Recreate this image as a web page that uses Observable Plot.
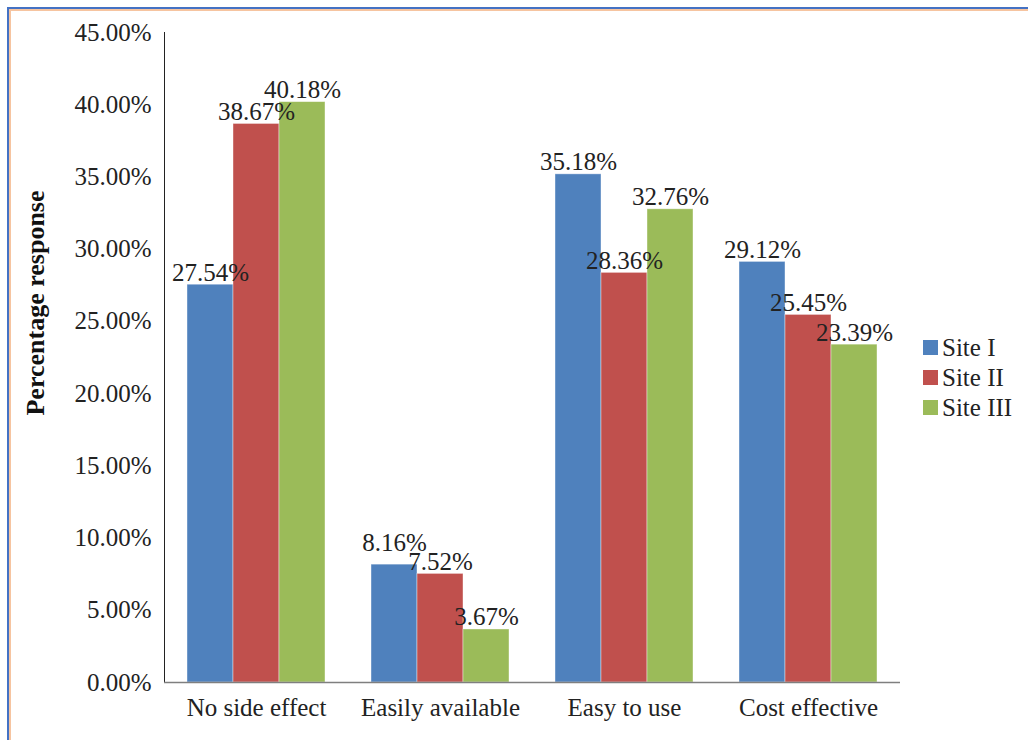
<!DOCTYPE html>
<html>
<head>
<meta charset="utf-8">
<script src="https://cdn.jsdelivr.net/npm/d3@7"></script>
<script src="https://cdn.jsdelivr.net/npm/@observablehq/plot@0.6"></script>
<style>
  html, body { margin: 0; padding: 0; background: #fff; }
  #wrap { position: relative; width: 1028px; height: 740px; overflow: hidden; }
  #wrap svg { position: absolute; left: 0; top: 0; }
  .edge-blue { position: absolute; left: 7px; top: 7px; right: 0; bottom: 0;
               border-top: 2px solid #4472C4; border-left: 2px solid #4472C4; pointer-events: none; }
  .edge-orange { position: absolute; left: 9px; top: 9px; right: 0; bottom: 0;
                 border-top: 2px solid #F6C4A0; border-left: 2px solid #F6C4A0; pointer-events: none; }
</style>
</head>
<body>
<div id="wrap"></div>
<script>
// Reasons for preference, response share (%) per site
const categories = ["No side effect", "Easily available", "Easy to use", "Cost effective"];
const sites = ["Site I", "Site II", "Site III"];
const siteI = [27.54, 8.16, 35.18, 29.12];
const siteII = [38.67, 7.52, 28.36, 25.45];
const siteIII = [40.18, 3.67, 32.76, 23.39];
const yTicks = [0, 5, 10, 15, 20, 25, 30, 35, 40, 45];
const siteColors = ["#4F81BD", "#C0504D", "#9BBB59"];
const yTitle = "Percentage response";

const W = 1028, H = 740;
const M = {top: 32, right: 127, bottom: 58, left: 163};
const font = '"Liberation Serif", "Times New Roman", serif';
const fontPx = 25;

const seriesValues = [siteI, siteII, siteIII];
const rows = [];
categories.forEach((c, ci) => {
  sites.forEach((s, si) => rows.push({category: c, site: s, value: seriesValues[si][ci]}));
});

// Value labels sit just above each bar; where two neighbouring labels
// would collide, the one on the taller bar is lifted clear of the other.
const yMax = yTicks[yTicks.length - 1];
const pxPerUnit = (H - M.top - M.bottom) / yMax;
const gapUnits = 4 / pxPerUnit;
const textUnits = 19 / pxPerUnit;
const labels = [];
categories.forEach(c => {
  const group = rows.filter(r => r.category === c).map((r, i) => ({...r, idx: i, pos: r.value + gapUnits}));
  const order = [...group].sort((a, b) => a.value - b.value);
  const placed = [];
  for (const lab of order) {
    for (const p of placed) {
      if (Math.abs(p.idx - lab.idx) === 1 && lab.pos - p.pos < textUnits) lab.pos = p.pos + textUnits;
    }
    placed.push(lab);
  }
  labels.push(...group);
});

const svg = Plot.plot({
  width: W,
  height: H,
  marginTop: M.top,
  marginRight: M.right,
  marginBottom: M.bottom,
  marginLeft: M.left,
  style: {fontFamily: font, fontSize: fontPx + "px", color: "#222", background: "transparent"},
  fx: {domain: categories, padding: 0, axis: "bottom", tickSize: 0, tickPadding: 16, label: null},
  x: {domain: sites, paddingInner: 0, paddingOuter: 0.5, axis: null},
  y: {domain: [0, yMax], ticks: yTicks, tickFormat: d => d.toFixed(2) + "%", tickSize: 0, tickPadding: 13, label: null, line: true},
  color: {domain: sites, range: siteColors},
  marks: [
    Plot.barY(rows, {fx: "category", x: "site", y: "value", fill: "site", stroke: "#ffffff", strokeOpacity: 0.5, strokeWidth: 0.8}),
    Plot.ruleY([0], {stroke: "#7f7f7f", strokeWidth: 1.5}),
    Plot.text(labels, {fx: "category", x: "site", y: "pos", text: d => d.value.toFixed(2) + "%",
      lineAnchor: "bottom", fill: "#222", fontSize: fontPx})
  ]
});

const root = d3.select(svg);

// Rotated axis title
root.append("text")
  .attr("transform", "translate(44,303) rotate(-90)")
  .attr("text-anchor", "middle")
  .attr("font-family", font)
  .attr("font-size", 26)
  .attr("font-weight", "bold")
  .attr("fill", "#111")
  .text(yTitle);

// Legend on the right
const legend = root.append("g")
  .attr("font-family", font)
  .attr("font-size", fontPx)
  .attr("fill", "#222")
  .attr("text-anchor", "start");
sites.forEach((s, i) => {
  const cy = 347 + i * 30;
  legend.append("rect").attr("x", 923).attr("y", cy - 7).attr("width", 15).attr("height", 15).attr("fill", siteColors[i]);
  legend.append("text").attr("x", 942).attr("y", cy).attr("dy", "0.35em").text(s);
});

const wrap = document.getElementById("wrap");
wrap.appendChild(svg);
const blue = document.createElement("div"); blue.className = "edge-blue";
const orange = document.createElement("div"); orange.className = "edge-orange";
wrap.appendChild(blue);
wrap.appendChild(orange);
</script>
</body>
</html>
